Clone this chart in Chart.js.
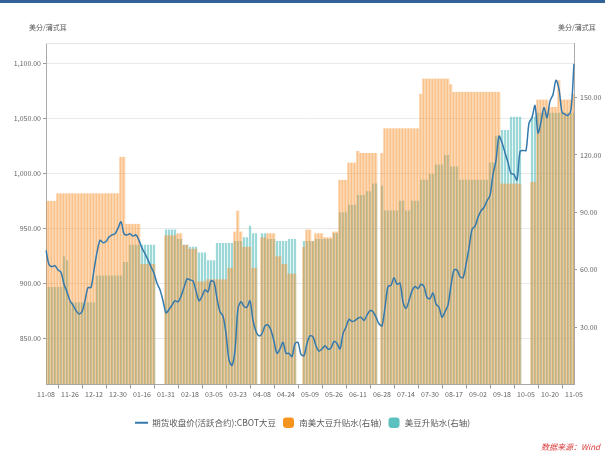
<!DOCTYPE html>
<html>
<head>
<meta charset="utf-8">
<script src="https://cdn.jsdelivr.net/npm/chart.js@4.4.1/dist/chart.umd.min.js"></script>
<style>
  html, body { margin: 0; padding: 0; background: #fff; }
  #wrap { position: relative; width: 605px; height: 453px; overflow: hidden; }
  #topBand { position: absolute; left: 0; top: 0; width: 605px; height: 3px; background: #33619a; }
  .unit { position: absolute; top: 22px; font: 7px "Noto Sans CJK SC", sans-serif; color: #555; }
  #source { position: absolute; left: 541px; top: 441px; font: italic 8px "Noto Sans CJK SC", sans-serif; color: #d9383a; }
</style>
</head>
<body>
<div id="wrap">
  <div id="topBand"></div>
  <div class="unit" style="left:29px">美分/蒲式耳</div>
  <div class="unit" style="left:558px">美分/蒲式耳</div>
  <canvas id="chart" width="605" height="453"></canvas>
  <div id="source">数据来源：Wind</div>
</div>
<script>
/* ===============================
   DATA
   =============================== */
const tickLabels = ["11-08", "11-26", "12-12", "12-30", "01-16", "01-31", "02-18", "03-05",
  "03-23", "04-08", "04-24", "05-09", "05-26", "06-11", "06-28", "07-14", "07-30",
  "08-17", "09-02", "09-18", "10-05", "10-20", "11-05"];
const STEP = 8; // categories between two shown dates

// 期货收盘价(活跃合约):CBOT大豆 (left axis)
const cbotClose = [
  930, 917, 915, 916, 912, 910, 899, 892, 884, 880,
  875, 872, 874, 884, 896, 896, 912, 928, 939, 937,
  938, 942, 944, 945, 950, 956, 945, 944, 945, 943,
  944, 939, 932, 927, 921, 915, 909, 900, 894, 884,
  873, 876, 880, 884, 883, 888, 896, 904, 903, 902,
  893, 884, 888, 894, 892, 902, 901, 886, 874, 870,
  854, 830, 825, 839, 877, 883, 879, 878, 884, 866,
  856, 852, 854, 861, 862, 857, 847, 836, 840, 846,
  836, 836, 833, 845, 846, 835, 834, 845, 852, 851,
  843, 838, 840, 843, 840, 841, 847, 845, 840, 854,
  860, 867, 865, 866, 868, 869, 866, 871, 875, 874,
  869, 863, 861, 878, 897, 898, 905, 899, 900, 883,
  877, 884, 893, 897, 895, 899, 897, 887, 886, 891,
  881, 878, 869, 874, 880, 898, 912, 912, 906, 905,
  917, 932, 949, 952, 960, 966, 969, 975, 980, 999,
  1012, 1034, 1028, 1019, 1010, 1000, 999, 994, 1020, 1021,
  1021, 1046, 1051, 1062, 1037, 1047, 1060, 1051, 1066, 1072,
  1085, 1077, 1056, 1054, 1053, 1058, 1100
];

// 南美大豆升贴水(右轴)
const southAmerica = [
  96, 96, 96, 96, 100, 100, 100, 100, 100, 100,
  100, 100, 100, 100, 100, 100, 100, 100, 100, 100,
  100, 100, 100, 100, 100, 119, 119, 84, 84, 84,
  84, 84, 63, 63, 63, 63, 63, null, null, null,
  78, 78, 78, 78, 79, 79, 73, 73, 71, 71,
  71, 54, 54, 54, 55, 55, 55, 55, 55, 55,
  55, 61, 61, 80, 91, 80, 72, 72, 72, 61,
  61, null, 77, 77, 79, 79, 79, 67, 67, 63,
  63, 58, 58, 58, null, null, 72, 81, 81, 75,
  79, 79, 79, 77, 77, 77, 80, 80, 107, 107,
  107, 116, 116, 116, 122, 121, 121, 121, 121, 121,
  121, null, 121, 134, 134, 134, 134, 134, 134, 134,
  134, 134, 134, 134, 134, 152, 160, 160, 160, 160,
  160, 160, 160, 160, 160, 157, 153, 153, 153, 153,
  153, 153, 153, 153, 153, 153, 153, 153, 153, 153,
  153, 153, 105, 105, 105, 105, 105, 105, 105, null,
  null, null, 106, 106, 149, 149, 149, 149, 145, 145,
  145, 159, 149, 149, 149, 149, 152
];

// 美豆升贴水(右轴)
const usBasis = [
  51, 51, 51, 51, 51, 51, 67, 65, 43, 43,
  43, 43, 43, 43, 43, 43, 43, 57, 57, 57,
  57, 57, 57, 57, 57, 57, 64, 64, 73, 73,
  73, 73, 73, 73, 73, 73, 73, null, null, null,
  81, 81, 81, 81, 76, 76, 73, 73, 72, 72,
  72, 69, 69, 69, 65, 65, 65, 74, 74, 74,
  74, 74, 74, 75, 75, 75, 77, 77, 83, 79,
  79, null, 79, 79, 76, 76, 76, 75, 75, 75,
  75, 76, 76, 76, null, null, 75, 75, 75, 75,
  76, 76, 76, 76, 76, 76, 79, 79, 90, 90,
  90, 94, 94, 94, 99, 99, 99, 101, 101, 105,
  105, null, 104, 91, 91, 91, 91, 91, 96, 96,
  91, 91, 96, 96, 96, 107, 107, 107, 110, 110,
  115, 115, 115, 120, 120, 114, 114, 114, 107, 107,
  107, 107, 107, 107, 107, 107, 107, 107, 116, 116,
  130, 130, 133, 133, 133, 140, 140, 140, 140, null,
  null, null, 140, 140, 142, 142, 142, 142, 142, 142,
  142, 142, 142, 142, 142, 142, 142
];

const leftTicks = [850, 900, 950, 1000, 1050, 1100];
const rightTicks = [30, 60, 90, 120, 150];

const categories = cbotClose.map((_, i) => (i % STEP === 0 ? tickLabels[i / STEP] : ""));

/* ===============================
   CHART
   =============================== */
const FONT = '"Noto Sans CJK SC", "Noto Sans", sans-serif';
const BLUE = "#3479ad";
const ORANGE = "#f7941d";
const TEAL = "#5cc0bf";
const legendColors = [BLUE, ORANGE, TEAL];

const topLine = {
  id: "topLine",
  beforeDatasetsDraw(chart) {
    const { ctx, chartArea } = chart;
    ctx.save();
    ctx.strokeStyle = "#e6e6e6";
    ctx.lineWidth = 1;
    ctx.beginPath();
    ctx.moveTo(chartArea.left, chartArea.top + 0.5);
    ctx.lineTo(chartArea.right, chartArea.top + 0.5);
    ctx.stroke();
    ctx.restore();
  }
};

new Chart(document.getElementById("chart"), {
  type: "bar",
  data: {
    labels: categories,
    datasets: [
      {
        type: "line",
        label: "期货收盘价(活跃合约):CBOT大豆",
        data: cbotClose,
        yAxisID: "y",
        borderColor: BLUE,
        borderWidth: 1.5,
        pointRadius: 0,
        tension: 0.3,
        order: 0
      },
      {
        label: "南美大豆升贴水(右轴)",
        data: southAmerica,
        yAxisID: "y1",
        backgroundColor: "rgba(247,150,50,0.36)",
        borderColor: "rgba(245,140,40,0.45)",
        borderWidth: { left: 1, right: 0, top: 0, bottom: 0 },
        barPercentage: 1,
        categoryPercentage: 1,
        order: 1
      },
      {
        label: "美豆升贴水(右轴)",
        data: usBasis,
        yAxisID: "y1",
        backgroundColor: "rgba(92,190,190,0.6)",
        borderWidth: 0,
        barPercentage: 0.75,
        categoryPercentage: 1,
        order: 2
      }
    ]
  },
  options: {
    animation: false,
    responsive: false,
    layout: { padding: { top: 43, left: 0, right: 0, bottom: 16 } },
    datasets: { bar: { grouped: false } },
    plugins: {
      tooltip: { enabled: false },
      legend: {
        position: "bottom",
        labels: {
          usePointStyle: true,
          pointStyleWidth: 13,
          boxHeight: 9,
          padding: 6,
          color: "#595959",
          font: { size: 8.5, family: FONT },
          generateLabels(chart) {
            const items = Chart.defaults.plugins.legend.labels.generateLabels(chart);
            items.forEach((it, k) => {
              it.fillStyle = legendColors[k];
              it.strokeStyle = legendColors[k];
              it.lineWidth = k === 0 ? 2 : 0;
              it.pointStyle = k === 0 ? "line" : "rectRounded";
            });
            return items;
          }
        }
      }
    },
    scales: {
      x: {
        offset: false,
        afterBuildTicks: s => { s.ticks = s.ticks.filter(t => t.value % STEP === 0); },
        afterFit: s => { s.height = 28; },
        grid: { drawOnChartArea: false, tickLength: 4, tickColor: "#999" },
        border: { color: "#aaa" },
        ticks: { autoSkip: false, maxRotation: 0, color: "#666", padding: 2, font: { size: 7, family: FONT } }
      },
      y: {
        position: "left",
        min: 807.6,
        max: 1119,
        afterBuildTicks: s => { s.ticks = leftTicks.map(v => ({ value: v })); },
        afterFit: s => { s.width = 46; },
        grid: { color: "#e9e9e9", tickColor: "#999", tickLength: 3 },
        border: { color: "#aaa" },
        ticks: {
          color: "#666",
          padding: 2,
          font: { size: 7, family: FONT },
          callback: v => v.toLocaleString("en-US", { minimumFractionDigits: 2, maximumFractionDigits: 2 })
        }
      },
      y1: {
        position: "right",
        min: 0,
        max: 178.5,
        afterBuildTicks: s => { s.ticks = rightTicks.map(v => ({ value: v })); },
        afterFit: s => { s.width = 31; },
        grid: { drawOnChartArea: false, tickColor: "#999", tickLength: 3 },
        border: { color: "#aaa" },
        ticks: {
          color: "#666",
          padding: 3,
          font: { size: 7, family: FONT },
          callback: v => v.toFixed(2)
        }
      }
    }
  },
  plugins: [topLine]
});
</script>
</body>
</html>
